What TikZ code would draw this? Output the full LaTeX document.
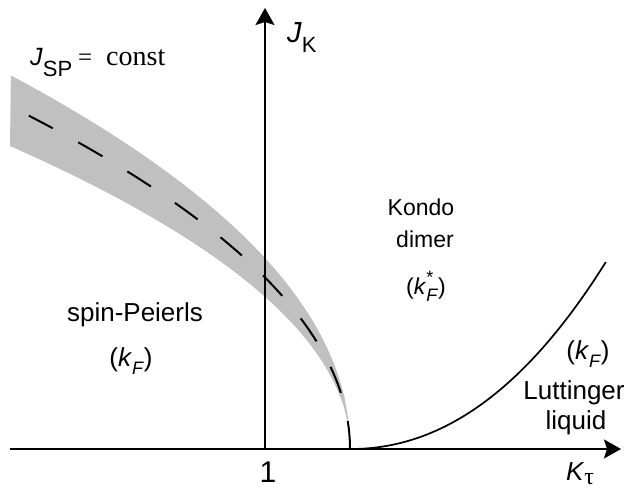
\documentclass[tikz,border=0pt]{standalone}
\usepackage{fontspec}
\setmainfont{Liberation Sans}
\newfontfamily\serifrm{Liberation Serif}
\usetikzlibrary{arrows.meta}
\definecolor{bandgray}{RGB}{192,192,192}
\newcommand{\fs}[1]{\fontsize{#1}{#1}\selectfont}
\newcommand{\kF}{\textit{k}\raisebox{-0.3em}{\fs{18}\textit{F}}}
\newcommand{\kFs}{\textit{k}\rlap{\raisebox{0.5em}{\fs{18}*}}\raisebox{-0.3em}{\fs{18}\textit{F}}}
\tikzset{
  axis/.style={line width=2pt,-{Stealth[length=17pt,width=19pt,inset=3pt]}},
  lbl/.style={anchor=base,inner sep=0pt},
  lblw/.style={anchor=base west,inner sep=0pt},
  big/.style={font=\fs{26}},
  mid/.style={font=\fs{23}},
}
\begin{document}
\begin{tikzpicture}[x=1pt,y=-1pt]
\useasboundingbox (0,0) rectangle (633,489);
\coordinate (o) at (265,449);
\coordinate (xl) at (10,449);
\coordinate (xr) at (621,449);
\coordinate (yt) at (265,8);
\coordinate (c) at (350,449);
% band
\fill[bandgray] plot[domain=0:1,samples=120,variable=\u] ({350-340*\u*\u},{449-374*\u^0.97})
  -- plot[domain=1:0,samples=120,variable=\u] ({350-340*\u*\u},{449-303*\u^0.994}) -- cycle;
% axes
\draw[axis] (xl) -- (xr);
\draw[axis] (o) -- (yt);
% dashed boundary
\draw[line width=2pt,dash pattern=on 28pt off 29.1pt] plot[domain=0:1,samples=120,variable=\u] ({350-322*\u*\u},{449-333.8*\u});
% Luttinger boundary
\draw[line width=1.7pt] (c) -- plot[domain=0:1,samples=80,variable=\t] ({351+255*\t},{449-187.3*(0.82*\t*\t+0.18*\t*\t*\t)});
% labels
\node[lblw,font=\fs{25}] (jsp) at (30,66) {\textit{J}\raisebox{-11pt}{\fs{22}SP}};
\node[lblw,font=\serifrm\fs{25}] (eq) at (78,66) {=};
\node[lblw,font=\serifrm\fs{28}] (const) at (106,66) {const};
\node[lblw,font=\fs{29}] (jk) at (287,43) {\textit{J}\raisebox{-10pt}{\fs{22}K}};
\node[lblw,font=\fs{26}] (kt) at (566,481) {\textit{K}\raisebox{-3.5pt}{\serifrm\fs{24}τ}};
\node[lbl,font=\fs{30}] (one) at (268,482.5) {1};
\node[lbl,mid] (kondo) at (421,216) {Kondo};
\node[lbl,mid] (dimer) at (425,248) {dimer};
\node[lbl,mid] (kfs) at (426,295) {(\kFs)};
\node[lbl,big] (sp) at (135,322) {spin-Peierls};
\node[lbl,big] (kfl) at (131,367) {(\kF)};
\node[lbl,big] (kfr) at (588,360) {(\kF)};
\node[lbl,big] (lut) at (574,400) {Luttinger};
\node[lbl,big] (liq) at (576,430) {liquid};
\end{tikzpicture}
\end{document}
